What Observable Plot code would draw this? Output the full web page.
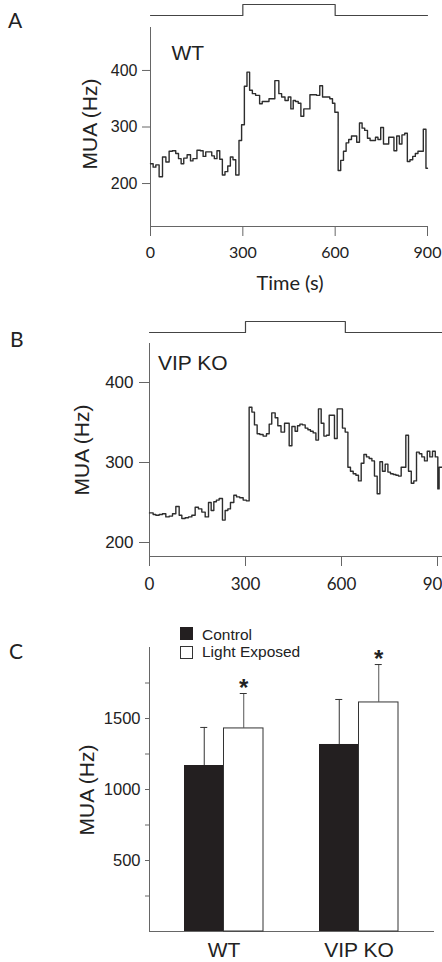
<!DOCTYPE html>
<html>
<head>
<meta charset="utf-8">
<script src="https://cdn.jsdelivr.net/npm/d3@7"></script>
<script src="https://cdn.jsdelivr.net/npm/@observablehq/plot@0.6"></script>
<style>
  html, body { margin: 0; padding: 0; background: #fff; overflow: hidden; }
  #root { position: relative; width: 442px; height: 962px; overflow: hidden; background: #fff;
          font-family: "Liberation Sans", Arial, sans-serif; color: #222; }
  .pl { position: absolute; left: 0; }
  .t { position: absolute; white-space: nowrap; line-height: 1; }
  .letter { font-family: Lato, sans-serif; font-size: 21px; color: #222; }
  .ytitle { font-size: 21px; transform: translate(-50%, -50%) rotate(-90deg); }
  .xtitle { font-family: Lato, sans-serif; font-size: 20px; transform: translate(-50%, -50%); }
  .inlabel { font-size: 21px; }
  .leg { font-size: 15.5px; }
  .sw { position: absolute; width: 13px; height: 13px; box-sizing: border-box; }
  svg text { fill: #222; }
  .lato g[aria-label="x-axis tick label"] text { font-family: Lato, sans-serif; }
</style>
</head>
<body>
<div id="root"></div>
<script>
// ---------------- data ----------------
// Panel A (WT): step trace, time (s) at start of each step and MUA (Hz)
const timeA = [0, 8.6, 17.3, 28, 39, 50, 60.5, 71, 82, 91, 99.5, 108, 119, 130, 138, 151, 162, 171, 179.5, 199,
  207.5, 216, 225, 233.5, 242, 251, 259.5, 268, 277, 287.5, 296, 305, 313.5, 322, 331, 341.5, 354.5, 363, 385, 404,
  417, 426, 437, 447.5, 456, 463.7, 471, 480, 488.6, 498, 518, 539.4, 550, 559, 582.6, 591.3, 599, 609.7, 618, 627,
  635.6, 644, 653, 670, 679, 687.5, 696, 705, 713.5, 731, 739, 748, 757, 774, 791, 800, 808.6, 817, 826, 834.5,
  843, 852, 860.5, 869, 886.4, 895, 900];
const muaA = [235, 229, 233, 212, 247, 238, 257, 258, 253, 244, 235, 245, 251, 240, 244, 259, 258, 248, 256, 249,
  244, 258, 243, 215, 221, 231, 247, 242, 215, 276, 304, 372, 397, 365, 359, 356, 341, 345, 350, 382,
  359, 353, 347, 353, 332, 347, 345, 342, 319, 332, 357, 356, 373, 353, 350, 342, 326, 223, 241, 257,
  272, 278, 284, 273, 307, 298, 294, 280, 276, 282, 278, 299, 270, 282, 258, 284, 270, 286, 289, 239,
  242, 248, 253, 257, 296, 227, 227];

// Panel B (VIP KO)
const timeB = [0, 11.4, 19.8, 30.2, 40.6, 51, 61.4, 71.9, 82.3, 92.7, 101, 111.4, 121.9, 132.3, 142.7, 153, 163.5, 174, 184.4, 192.7,
  201, 209, 217.7, 228, 236.4, 244.8, 253, 263.5, 271.9, 282, 292.7, 303, 311.4, 320, 328, 336.4, 344.8, 355, 365.6, 374,
  382, 392.7, 401, 411, 422, 436.5, 445, 455, 462.5, 470, 478, 486.5, 495, 503, 511.5, 520, 528, 536.5, 545, 553,
  561.5, 578, 586.5, 603, 611.5, 620, 628, 636.5, 645, 653, 661.5, 670, 678, 686.5, 695, 703, 711.5, 720, 728, 736.5,
  745, 753, 761.5, 770, 778, 786.5, 801, 809.4, 818, 826, 834.4, 843, 851, 859.4, 868, 876, 884.4, 893, 901, 905, 916];
const muaB = [237, 235, 234, 235, 236, 232, 233, 236, 245, 234, 230, 231, 232, 234, 244, 242, 238, 232, 250, 240,
  251, 253, 255, 228, 240, 242, 250, 259, 257, 256, 253, 252, 369, 363, 347, 336, 335, 333, 336, 348,
  362, 356, 346, 338, 349, 321, 345, 339, 346, 348, 347, 343, 341, 339, 337, 328, 367, 349, 333, 334,
  359, 330, 367, 343, 338, 294, 289, 286, 284, 277, 299, 310, 307, 305, 302, 283, 261, 301, 289, 298,
  288, 286, 285, 284, 283, 294, 334, 289, 274, 277, 313, 311, 307, 302, 314, 307, 314, 307, 267, 294, 294];

// Light stimulus (off / on / off)
const stimTimeA = [0, 300, 600, 900];
const stimTimeB = [0, 300, 612, 916];
const stimLevel = [0, 1, 0, 0];

const xTicks = [0, 300, 600, 900];
const yTicksTrace = [200, 300, 400];

// Panel C
const groups = ["WT", "VIP KO"];
const controlMean = [1169, 1317];
const controlErr = [1437, 1634];
const lightMean = [1430, 1613];
const lightErr = [1676, 1880];
const yTicksC = [250, 500, 750, 1000, 1250, 1500, 1750];
const yLabelsC = [500, 1000, 1500];
const legendLabels = ["Control", "Light Exposed"];

// ---------------- helpers ----------------
const root = document.getElementById("root");
function place(node, top, cls) {
  node.classList.add("pl");
  if (cls) node.classList.add(cls);
  node.style.top = top + "px";
  root.appendChild(node);
}
function text(str, cls, left, top) {
  const d = document.createElement("div");
  d.className = "t " + cls;
  d.textContent = str;
  d.style.left = left + "px";
  d.style.top = top + "px";
  root.appendChild(d);
  return d;
}
const TRACE = "#2d2d2d";
const AXIS = "#666";

function stim(times, ml, mr, domainMax, h, mt, mb) {
  const idx = d3.range(times.length);
  return Plot.plot({
    width: 442, height: h, marginTop: mt, marginBottom: mb, marginLeft: ml, marginRight: mr,
    x: {domain: [0, domainMax], axis: null},
    y: {domain: [0, 1], axis: null},
    style: {background: "transparent", overflow: "visible"},
    marks: [Plot.line(idx, {x: i => times[i], y: i => stimLevel[i], curve: "step-after", stroke: "#444", strokeWidth: 1.2})]
  });
}

function trace(times, vals, opts) {
  const idx = d3.range(times.length);
  return Plot.plot({
    width: 442, height: opts.h, marginTop: opts.mt, marginBottom: opts.mb, marginLeft: opts.ml, marginRight: opts.mr,
    style: {background: "transparent", color: AXIS, fontFamily: "'Liberation Sans', Arial, sans-serif", fontSize: opts.yfs + "px"},
    x: {domain: [0, opts.xmax], ticks: xTicks, tickFormat: d => String(d), tickSize: 10, tickPadding: opts.xpad, line: true, label: null},
    y: {domain: opts.ydom, ticks: yTicksTrace, tickFormat: d => String(d), tickSize: opts.ytick, tickPadding: opts.ypad, line: true, label: null},
    marks: [
      Plot.line(idx, {x: i => times[i], y: i => vals[i], curve: "step-after", stroke: TRACE, strokeWidth: 1.4})
    ]
  });
}
function styleXTicks(svg, size) {
  d3.select(svg).selectAll('g[aria-label="x-axis tick label"] text, g[aria-label="x-axis"] text')
    .style("font-family", "Lato, sans-serif").style("font-size", size + "px");
}

// ---------------- Panel A ----------------
place(stim(stimTimeA, 150, 15, 900, 22, 4, 7), 0);
const pA = trace(timeA, muaA, {h: 280, mt: 7, mb: 74, ml: 150, mr: 15, xmax: 900, ydom: [124, 476],
  ytick: 8, ypad: 5, xpad: 10, yfs: 16});
styleXTicks(pA, 16);
place(pA, 20, "lato");
text("A", "letter", 8, 9.4);
text("WT", "inlabel", 171.5, 41.6);
text("MUA (Hz)", "ytitle", 88.8, 123.5);
text("Time (s)", "xtitle", 290, 281.5);

// ---------------- Panel B ----------------
place(stim(stimTimeB, 149, 0, 915.6, 20, 4, 5), 317);
const pB = trace(timeB, muaB, {h: 260, mt: 7, mb: 40, ml: 149, mr: 0, xmax: 915.6, ydom: [182.5, 448.75],
  ytick: 10, ypad: 6, xpad: 11, yfs: 17});
styleXTicks(pB, 17);
place(pB, 336, "lato");
text("B", "letter", 10, 328);
text("VIP KO", "inlabel", 158, 351.6);
text("MUA (Hz)", "ytitle", 80.8, 449.5);

// ---------------- Panel C ----------------
const bw = 79, half = bw / 2, q = bw / 4, cap = 3.5;
const pC = Plot.plot({
  width: 442, height: 322, marginTop: 7, marginBottom: 31, marginLeft: 149, marginRight: 9,
  style: {background: "transparent", color: AXIS, fontFamily: "'Liberation Sans', Arial, sans-serif", fontSize: "16.5px"},
  x: {type: "band", domain: groups, paddingInner: 56 / 135, paddingOuter: 0.259259, align: 0.5, round: false,
      tickSize: 0, tickPadding: 11, line: true, label: null},
  y: {domain: [0, 2000], ticks: yTicksC, tickFormat: d => (yLabelsC.includes(d) ? String(d) : ""), tickSize: 4, tickPadding: 5,
      line: true, label: null},
  marks: [
    Plot.barY(groups, {x: d => d, y1: 0, y2: (d, i) => controlMean[i], insetRight: half, fill: "#231f20"}),
    Plot.barY(groups, {x: d => d, y1: 0, y2: (d, i) => lightMean[i], insetLeft: half, fill: "white", stroke: "#333", strokeWidth: 1}),
    Plot.ruleX(groups, {x: d => d, y1: (d, i) => controlMean[i], y2: (d, i) => controlErr[i], dx: -q, stroke: "#333", strokeWidth: 1}),
    Plot.ruleX(groups, {x: d => d, y1: (d, i) => lightMean[i], y2: (d, i) => lightErr[i], dx: q, stroke: "#555", strokeWidth: 1}),
    Plot.tickY(groups, {x: d => d, y: (d, i) => controlErr[i], insetLeft: q - cap, insetRight: bw - q - cap, stroke: "#333"}),
    Plot.tickY(groups, {x: d => d, y: (d, i) => lightErr[i], insetLeft: bw - q - cap, insetRight: q - cap, stroke: "#333"}),
    Plot.text(groups, {x: d => d, y: (d, i) => lightErr[i], text: () => "*", dx: q, dy: -5, fontSize: 24, fontWeight: "bold", fill: "#222"})
  ]
});
d3.select(pC).selectAll('g[aria-label="x-axis tick label"] text, g[aria-label="x-axis"] text').style("font-size", "21px");
place(pC, 640);
text("C", "letter", 9, 639.5);
text("MUA (Hz)", "ytitle", 86, 790);

// legend
const sw1 = document.createElement("div"); sw1.className = "sw";
sw1.style.left = "180px"; sw1.style.top = "627px"; sw1.style.background = "#231f20"; root.appendChild(sw1);
const sw2 = document.createElement("div"); sw2.className = "sw";
sw2.style.left = "180px"; sw2.style.top = "646px"; sw2.style.background = "#fff"; sw2.style.border = "1px solid #333"; root.appendChild(sw2);
text(legendLabels[0], "leg", 202, 626.9);
text(legendLabels[1], "leg", 202, 644.4);
</script>
</body>
</html>
